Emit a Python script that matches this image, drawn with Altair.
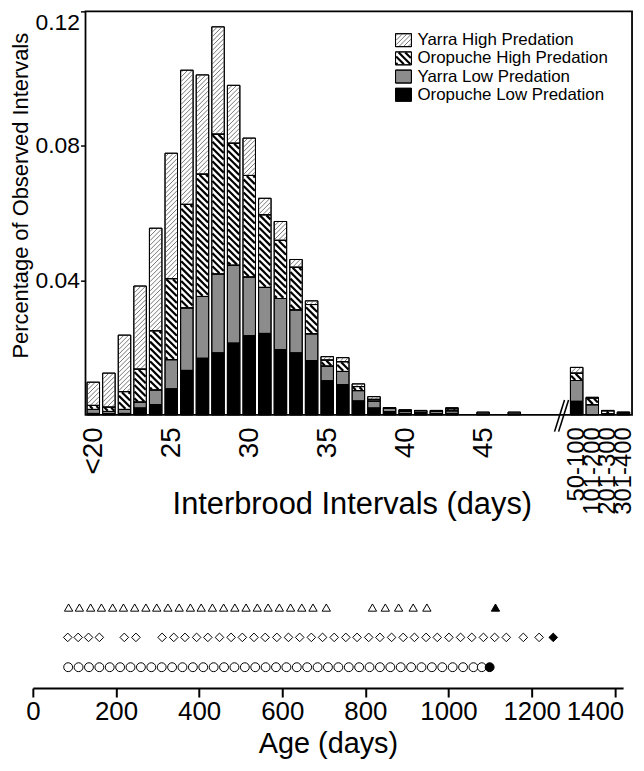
import altair as alt
import pandas as pd
import numpy as np

FONT = "Liberation Sans"

# ---------------- top panel data ----------------
day_labels = ["<20"] + [str(d) for d in range(21, 50)]
range_labels = ["50-100", "101-200", "201-300", "301-400"]
categories = day_labels + range_labels

series = ["Yarra High Predation", "Oropuche High Predation",
          "Yarra Low Predation", "Oropuche Low Predation"]

# segment heights (fraction of observed intervals), one value per category
oropuche_low = [0.0004, 0.0003, 0.0004, 0.0020, 0.0030, 0.0077, 0.0132, 0.0168, 0.0184, 0.0213,
                0.0235, 0.0242, 0.0194, 0.0184, 0.0161, 0.0101, 0.0090, 0.0041, 0.0020, 0.0009,
                0.0004, 0.0003, 0.0003, 0.0004, 0.0, 0.0002, 0.0, 0.0002, 0.0, 0.0,
                0.0040, 0.0, 0.0, 0.0]
yarra_low = [0.0012, 0.0007, 0.0012, 0.0018, 0.0044, 0.0087, 0.0186, 0.0184, 0.0235, 0.0232,
             0.0175, 0.0137, 0.0152, 0.0128, 0.0080, 0.0044, 0.0039, 0.0031, 0.0021, 0.0010,
             0.0006, 0.0004, 0.0007, 0.0008, 0.0, 0.0006, 0.0, 0.0006, 0.0, 0.0,
             0.0062, 0.0030, 0.0003, 0.0003]
oropuche_high = [0.0012, 0.0013, 0.0053, 0.0098, 0.0176, 0.0241, 0.0308, 0.0364, 0.0416, 0.0363,
                 0.0302, 0.0216, 0.0173, 0.0127, 0.0087, 0.0018, 0.0029, 0.0012, 0.0005, 0.0001,
                 0.0003, 0.0005, 0.0002, 0.0006, 0.0, 0.0, 0.0, 0.0, 0.0, 0.0,
                 0.0022, 0.0020, 0.0009, 0.0004]
yarra_high = [0.0069, 0.0101, 0.0168, 0.0247, 0.0305, 0.0373, 0.0399, 0.0295, 0.0319, 0.0172,
              0.0111, 0.0049, 0.0056, 0.0023, 0.0011, 0.0010, 0.0012, 0.0008, 0.0008, 0.0001,
              0.0002, 0.0001, 0.0001, 0.0003, 0.0, 0.0, 0.0, 0.0, 0.0, 0.0,
              0.0017, 0.0002, 0.0001, 0.0001]

y_ticks = [0.04, 0.08, 0.12]

# ---------------- bottom panel data ----------------
rows = ["triangle", "diamond", "circle"]
triangle_ages = [86, 112, 139, 165, 192, 218, 245, 272, 298, 325, 352, 379, 405, 432, 459,
                 486, 513, 540, 566, 593, 620, 647, 674, 706, 817, 848, 880, 915, 948]
triangle_end = [1113]
diamond_ages = [84, 109, 134, 160, 220, 248, 311, 339, 366, 394, 421, 449, 477, 504, 532, 559,
                587, 615, 642, 670, 697, 725, 753, 780, 808, 835, 863, 891, 918, 946, 973,
                1001, 1029, 1056, 1084, 1111, 1139, 1180, 1218]
diamond_end = [1252]
circle_ages = [85, 110, 135, 160, 185, 210, 235, 260, 285, 310, 335, 360, 385, 410, 435, 460,
               485, 510, 535, 560, 585, 610, 635, 660, 685, 710, 735, 760, 785, 810, 835, 860,
               885, 910, 935, 960, 985, 1010, 1035, 1060, 1080]
circle_end = [1099]
age_ticks = [0, 200, 400, 600, 800, 1000, 1200, 1400]

# ---------------- geometry of the top panel ----------------
FRAME_W, H = 550, 406          # framed histogram area
LEFT_GAP = 53                  # room for the y axis inside the shared left edge
FRAME_X = [-0.5, 34.55]        # x extent of the frame (category positions)
Y_DOM = [0.0, 0.12]
KX = FRAME_W / (FRAME_X[1] - FRAME_X[0])
KY = H / (Y_DOM[1] - Y_DOM[0])
W = FRAME_W + LEFT_GAP
X_DOM = [FRAME_X[0] - LEFT_GAP / KX, FRAME_X[1]]
HALF = 0.4
BREAK_POS = 30


def px_to_x(px):          # pixels measured from the frame's left edge
    return px / KX + FRAME_X[0]


def py_up_to_y(py):       # pixels measured upward from the baseline
    return py / KY


positions = list(range(len(day_labels))) + [BREAK_POS + 1 + i for i in range(len(range_labels))]

stack_order = [("Oropuche Low Predation", oropuche_low), ("Yarra Low Predation", yarra_low),
               ("Oropuche High Predation", oropuche_high), ("Yarra High Predation", yarra_high)]

seg_rows = []
for i, (cat, p) in enumerate(zip(categories, positions)):
    base = 0.0
    for name, vals in stack_order:
        v = vals[i]
        if v > 0:
            seg_rows.append(dict(category=cat, series=name, x0=p - HALF, x1=p + HALF,
                                 y0=base, y1=base + v))
        base += v
seg_df = pd.DataFrame(seg_rows)

HATCH = {"Yarra High Predation": ("/", 4.6),
         "Oropuche High Predation": ("\\", 6.6)}


def hatch_lines(xl, xr, yb, yt, direction, step):
    out = []
    if direction == "/":
        cmin, cmax = yb - xr, yt - xl
        for k in range(int(np.floor(cmin / step)), int(np.ceil(cmax / step)) + 1):
            c = k * step
            xs, xe = max(xl, yb - c), min(xr, yt - c)
            if xe - xs > 0.4:
                out.append((xs, xs + c, xe, xe + c))
    else:
        cmin, cmax = yb + xl, yt + xr
        for k in range(int(np.floor(cmin / step)), int(np.ceil(cmax / step)) + 1):
            c = k * step
            xs, xe = max(xl, c - yt), min(xr, c - yb)
            if xe - xs > 0.4:
                out.append((xs, c - xs, xe, c - xe))
    return out


def hatch_rect(name, xl, xr, yb, yt):
    d, step = HATCH[name]
    out = []
    for (ax, ay, bx, by) in hatch_lines(xl + 0.6, xr - 0.6, yb + 0.6, yt - 0.6, d, step):
        out.append(dict(series=name, x0=px_to_x(ax), x1=px_to_x(bx),
                        y0=py_up_to_y(ay), y1=py_up_to_y(by)))
    return out


hatch_rows = []
for r in seg_rows:
    if r["series"] not in HATCH:
        continue
    xl = (r["x0"] - FRAME_X[0]) * KX
    xr = (r["x1"] - FRAME_X[0]) * KX
    yb = r["y0"] * KY
    yt = r["y1"] * KY
    if yt - yb < 2.0:
        continue
    hatch_rows += hatch_rect(r["series"], xl, xr, yb, yt)

# legend, laid out in frame pixels (y measured downward from the frame top)
LEG_TX, LEG_Y, LEG_DY = 334, 29, 18.3
leg_box_rows, leg_txt_rows = [], []
for k, name in enumerate(series):
    cy = LEG_Y + k * LEG_DY
    xl, xr = LEG_TX - 22, LEG_TX - 6
    yb, yt = H - (cy + 6.5), H - (cy - 6.5)
    leg_box_rows.append(dict(series=name, x0=px_to_x(xl), x1=px_to_x(xr),
                             y0=py_up_to_y(yb), y1=py_up_to_y(yt)))
    leg_txt_rows.append(dict(series=name, x0=px_to_x(LEG_TX), y0=py_up_to_y(H - cy)))
    if name in HATCH:
        hatch_rows += hatch_rect(name, xl, xr, yb, yt)

hatch_df = pd.DataFrame(hatch_rows)
leg_box_df = pd.DataFrame(leg_box_rows)
leg_txt_df = pd.DataFrame(leg_txt_rows)
frame_df = pd.DataFrame([dict(x0=FRAME_X[0], x1=FRAME_X[1], y0=Y_DOM[0], y1=Y_DOM[1])])

# axis break marks ("//") at the gap between day 49 and the long-interval bins
break_df = pd.DataFrame([
    dict(x0=BREAK_POS - 0.42, x1=BREAK_POS + 0.22, y0=-0.005, y1=0.0044),
    dict(x0=BREAK_POS - 0.16, x1=BREAK_POS + 0.48, y0=-0.005, y1=0.0044),
])

fill_scale = alt.Scale(domain=series, range=["white", "white", "#8c8c8c", "black"])
hatch_color = alt.Scale(domain=series[:2], range=["#666666", "black"])
hatch_width = alt.Scale(domain=series[:2], range=[0.9, 2.2])

xscale = alt.Scale(domain=X_DOM, nice=False, zero=False)
yscale = alt.Scale(domain=Y_DOM, nice=False)

label_map = {0: "<20", 5: "25", 10: "30", 15: "35", 20: "40", 25: "45"}
for i, lab in enumerate(range_labels):
    label_map[BREAK_POS + 1 + i] = lab
label_expr = " : ".join([f"datum.value == {k} ? '{v}'" for k, v in label_map.items()]) + " : ''"

x_axis = alt.Axis(values=list(label_map.keys()), labelExpr=label_expr, labelAngle=270,
                  labelFontSize={"condition": {"test": f"datum.value > {BREAK_POS}", "value": 24}, "value": 28},
                  labelPadding=12, ticks=False, domain=False, grid=False, labelOverlap=False,
                  labelBound=False, labelFlush=False, labelColor="black", titleFontSize=31,
                  titleFontWeight="normal", titleColor="black", titleY=75, titleX=321,
                  titleBaseline="top", titleAlign="center", title="Interbrood Intervals (days)")
y_axis = alt.Axis(values=y_ticks, format=".2f", labelFontSize=23, labelColor="black", tickSize=5,
                  tickWidth=1.5, tickColor="black", labelPadding=1, domain=False, grid=False,
                  offset=-LEFT_GAP, labelFlush=True, titleFontSize=22, titleFontWeight="normal",
                  titleColor="black", titleX=-(LEFT_GAP + 22), titleY=185, titleBaseline="top",
                  titleAlign="center", title="Percentage of Observed Intervals")


def enc(chart, with_x2=True, with_y2=True):
    kw = dict(x=alt.X("x0:Q", scale=xscale, axis=x_axis),
              y=alt.Y("y0:Q", scale=yscale, axis=y_axis))
    if with_x2:
        kw["x2"] = "x1:Q"
    if with_y2:
        kw["y2"] = "y1:Q"
    return chart.encode(**kw)


bars = enc(alt.Chart(seg_df).mark_rect(stroke="black", strokeWidth=1)).encode(
    fill=alt.Fill("series:N", scale=fill_scale, legend=None))
hatch = enc(alt.Chart(hatch_df).mark_rule(strokeCap="butt")).encode(
    stroke=alt.Stroke("series:N", scale=hatch_color, legend=None),
    strokeWidth=alt.StrokeWidth("series:N", scale=hatch_width, legend=None))
outline = enc(alt.Chart(seg_df).mark_rect(fillOpacity=0, stroke="black", strokeWidth=1))
brk = enc(alt.Chart(break_df).mark_rule(color="black", strokeWidth=1.6, clip=False))
leg_box = enc(alt.Chart(leg_box_df).mark_rect(stroke="black", strokeWidth=1)).encode(
    fill=alt.Fill("series:N", scale=fill_scale, legend=None))
leg_outline = enc(alt.Chart(leg_box_df).mark_rect(fillOpacity=0, stroke="black", strokeWidth=1))
leg_txt = enc(alt.Chart(leg_txt_df).mark_text(align="left", baseline="middle", fontSize=17,
                                              font=FONT, color="black"),
              with_x2=False, with_y2=False).encode(text="series:N")
frame = enc(alt.Chart(frame_df).mark_rect(fillOpacity=0, stroke="black", strokeWidth=1.8))

top = alt.layer(bars, leg_box, hatch, outline, leg_outline, brk, leg_txt, frame).properties(
    width=W, height=H, view=alt.ViewBackground(stroke=None))

# ---------------- bottom panel ----------------
pt_rows = []
for name, ages, ends, rv in [("triangle", triangle_ages, triangle_end, 1),
                             ("diamond", diamond_ages, diamond_end, 2),
                             ("circle", circle_ages, circle_end, 3)]:
    for a in ages:
        pt_rows.append(dict(row=name, rv=rv, age=a, fillc="white"))
    for a in ends:
        pt_rows.append(dict(row=name, rv=rv, age=a, fillc="black"))
pt_df = pd.DataFrame(pt_rows)

bottom = alt.Chart(pt_df).mark_point(filled=True, stroke="black", strokeWidth=1, opacity=1).encode(
    x=alt.X("age:Q", scale=alt.Scale(domain=[0, 1420], nice=False),
            axis=alt.Axis(values=age_ticks, format="d", tickSize=9, tickWidth=2, tickColor="black",
                          domainWidth=2, domainColor="black", labelFontSize=26, labelColor="black",
                          labelPadding=2, grid=False, labelFlush=False, labelOverlap=False,
                          labelAlign={"condition": {"test": "datum.value == 1400", "value": "right"},
                                      "value": "center"},
                          labelOffset={"condition": {"test": "datum.value == 1400", "value": 9},
                                       "value": 0},
                          titleFontSize=29, titleFontWeight="normal", titleColor="black",
                          titlePadding=5, title="Age (days)")),
    y=alt.Y("rv:Q", scale=alt.Scale(domain=[0.5, 3.7], nice=False, zero=False, reverse=True),
            axis=alt.Axis(labels=False, ticks=False, domain=False, grid=False, title=None,
                          minExtent=25, maxExtent=25)),
    shape=alt.Shape("row:N", scale=alt.Scale(domain=rows, range=["triangle-up", "diamond", "circle"]),
                    legend=None),
    size=alt.Size("row:N", scale=alt.Scale(domain=rows, range=[70, 80, 75]), legend=None),
    fill=alt.Fill("fillc:N", scale=None),
).properties(width=594, height=96, view=alt.ViewBackground(stroke=None))

chart = alt.concat(top, bottom, columns=1, spacing=74).properties(padding=0).configure(
    font=FONT).configure_view(stroke=None)

chart.save("out.html", embed_options={"renderer": "svg", "actions": False})
